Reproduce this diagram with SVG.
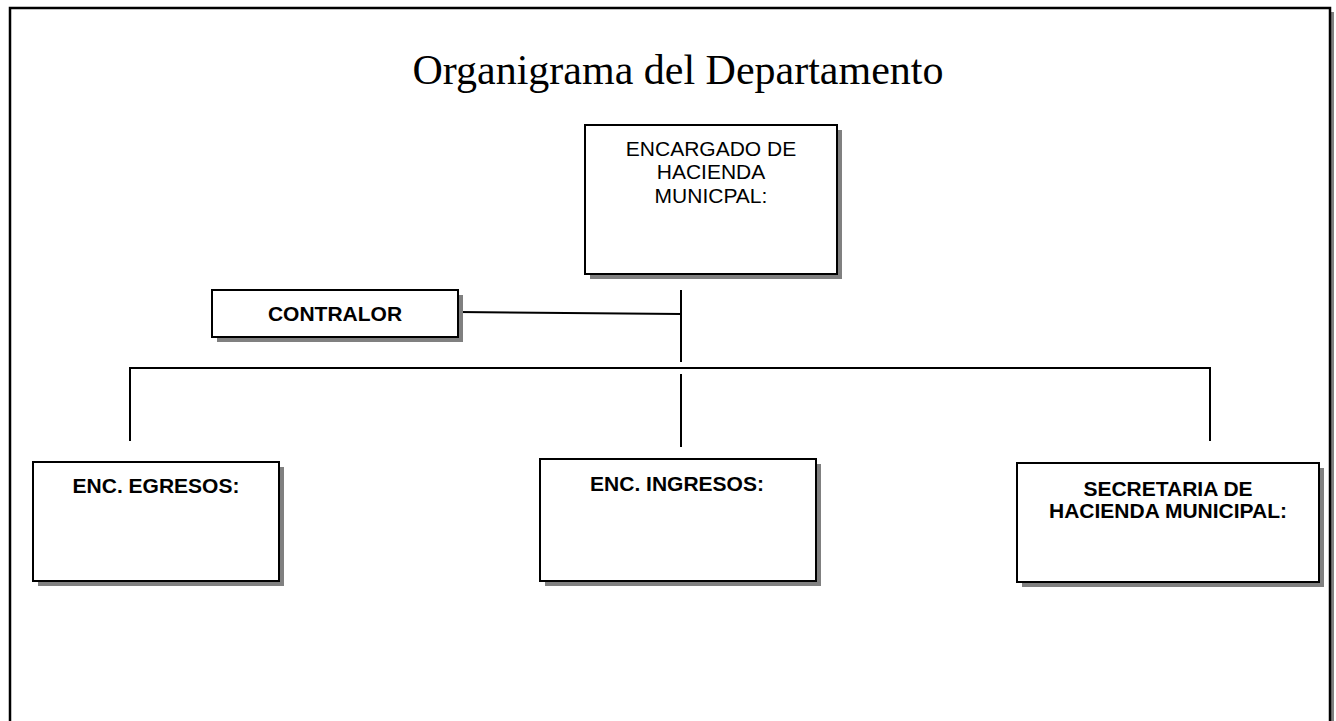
<svg xmlns="http://www.w3.org/2000/svg" width="1336" height="721" viewBox="0 0 1336 721">
<style>
.shadow{fill:#808080;stroke:none}
.box{fill:#fff;stroke:#000;stroke-width:2}
.t{font-family:"Liberation Sans",Arial,sans-serif;font-size:21px;text-anchor:middle;fill:#000}
.b{font-weight:bold}
.ln{stroke:#000;stroke-width:2;fill:none}
</style>
<rect x="0" y="0" width="1336" height="721" fill="#fff"/>
<g id="frame">
<rect x="14" y="12" width="1320" height="720" class="shadow"/>
<rect x="10" y="8" width="1320" height="720" fill="#fff" stroke="#000" stroke-width="2.5"/>
</g>
<text id="title" x="678" y="84" font-family="'Liberation Serif','Times New Roman',serif" font-size="42" text-anchor="middle" fill="#000">Organigrama del Departamento</text>
<g id="connectors">
<line x1="458" y1="312" x2="681" y2="314" class="ln"/>
<line x1="681" y1="290" x2="681" y2="362" class="ln"/>
<line x1="129" y1="368" x2="1211" y2="368" class="ln"/>
<line x1="681" y1="374" x2="681" y2="447" class="ln"/>
<line x1="130" y1="367" x2="130" y2="441" class="ln"/>
<line x1="1210" y1="367" x2="1210" y2="441" class="ln"/>
</g>
<g id="encargado">
<rect x="590" y="130" width="252" height="149" class="shadow"/>
<rect x="585" y="125" width="252" height="149" class="box"/>
<text class="t" x="711" y="156">ENCARGADO DE</text>
<text class="t" x="711" y="179">HACIENDA</text>
<text class="t" x="711" y="203">MUNICPAL:</text>
</g>
<g id="contralor">
<rect x="217" y="295" width="246" height="47" class="shadow"/>
<rect x="212" y="290" width="246" height="47" class="box"/>
<text class="t b" x="335" y="321">CONTRALOR</text>
</g>
<g id="egresos">
<rect x="38" y="467" width="246" height="119" class="shadow"/>
<rect x="33" y="462" width="246" height="119" class="box"/>
<text class="t b" x="156" y="493">ENC. EGRESOS:</text>
</g>
<g id="ingresos">
<rect x="545" y="464" width="276" height="122" class="shadow"/>
<rect x="540" y="459" width="276" height="122" class="box"/>
<text class="t b" x="677" y="491">ENC. INGRESOS:</text>
</g>
<g id="secretaria">
<rect x="1022" y="468" width="302" height="119" class="shadow"/>
<rect x="1017" y="463" width="302" height="119" class="box"/>
<text class="t b" x="1168" y="496">SECRETARIA DE</text>
<text class="t b" x="1168" y="518">HACIENDA MUNICIPAL:</text>
</g>
</svg>
